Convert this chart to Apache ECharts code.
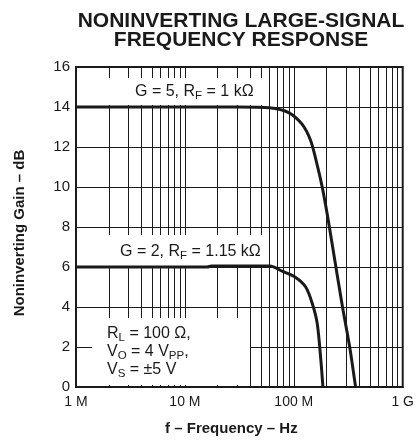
<!DOCTYPE html>
<html>
<head>
<meta charset="utf-8">
<script src="https://cdn.jsdelivr.net/npm/echarts@6/dist/echarts.min.js"></script>
<style>html,body{margin:0;padding:0;background:#fff;}#c{width:417px;height:441px;}</style>
</head>
<body>
<div id="c"></div>
<script>
// ---- data ----
var xTickValues = [1e6, 1e7, 1e8, 1e9];
var xTickLabels = ['1 M', '10 M', '100 M', '1 G'];
var yTickLabels = ['0', '2', '4', '6', '8', '10', '12', '14', '16'];

var freqG5 = [1e6, 3e7, 5.95e7, 9.06e7, 1.19e8, 1.43e8, 1.63e8, 1.82e8, 2.02e8, 2.24e8, 2.8e8, 3.26e8, 3.69e8];
var gainG5 = [14.0, 14.0, 13.96, 13.71, 13.14, 12.31, 11.16, 10.02, 8.69, 7.21, 4.0, 2.0, 0.0];

var freqG2 = [1e6, 1.6e7, 1.75e7, 6.0e7, 7.9e7, 1.04e8, 1.29e8, 1.48e8, 1.64e8, 1.77e8, 1.85e8];
var gainG2 = [6.0, 6.0, 6.05, 6.05, 5.78, 5.48, 4.99, 4.16, 3.18, 1.37, 0.0];

var FONT = "'Liberation Sans', Arial, Helvetica, sans-serif";
var INK = '#1a1a1a';

function zip(a, b) { return a.map(function (v, i) { return [v, b[i]]; }); }

// minor vertical grid positions (2..9 x each decade)
var minorLines = [];
for (var d = 0; d < xTickValues.length - 1; d++) {
  for (var m = 2; m <= 9; m++) minorLines.push({ xAxis: xTickValues[d] * m });
}

var chart = echarts.init(document.getElementById('c'), null, { renderer: 'canvas' });

var main = { fontFamily: FONT, fontSize: 16, color: INK };
var sub = { fontFamily: FONT, fontSize: 11.5, color: INK, verticalAlign: 'bottom', padding: [7, 0, 0, 0] };

function label(x, y, text) {
  return {
    type: 'text', x: x, y: y, z: 50,
    style: { text: text, fill: INK, font: '16px ' + FONT, verticalAlign: 'middle', rich: { a: main, s: sub } }
  };
}
function box(x, y, w, h) {
  return { type: 'rect', z: 40, shape: { x: x, y: y, width: w, height: h }, style: { fill: '#fff', stroke: null } };
}

var option = {
  animation: false,
  backgroundColor: '#fff',
  title: {
    text: 'NONINVERTING LARGE-SIGNAL\nFREQUENCY RESPONSE',
    left: 241, top: 12, padding: 0, textAlign: 'center',
    textStyle: { fontFamily: FONT, fontSize: 21, fontWeight: 'bold', color: INK, lineHeight: 19 }
  },
  grid: { left: 76, right: 13, top: 67, bottom: 50, show: true, borderColor: INK, borderWidth: 2, backgroundColor: 'transparent' },
  xAxis: {
    type: 'log', logBase: 10, min: 1e6, max: 1e9,
    name: 'f – Frequency – Hz', nameLocation: 'middle', nameGap: 34,
    nameTextStyle: { fontFamily: FONT, fontSize: 15, fontWeight: 'bold', color: INK, padding: [0, 16, 0, 0] },
    axisLine: { show: true, lineStyle: { color: INK, width: 2 } },
    axisTick: { show: false },
    splitLine: { show: true, lineStyle: { color: INK, width: 1 } },
    minorTick: { show: false }, minorSplitLine: { show: false },
    axisLabel: {
      margin: 8, fontFamily: FONT, fontSize: 14, color: INK,
      formatter: function (v) {
        var i = Math.round(Math.log10(v)) - 6;
        return xTickLabels[i] !== undefined ? xTickLabels[i] : '';
      }
    }
  },
  yAxis: {
    type: 'value', min: 0, max: 16, interval: 2,
    name: 'Noninverting Gain – dB', nameLocation: 'middle', nameGap: 49, nameRotate: 90,
    nameTextStyle: { fontFamily: FONT, fontSize: 15, fontWeight: 'bold', color: INK, padding: [0, 12, 0, 0] },
    axisLine: { show: true, lineStyle: { color: INK, width: 2 } },
    axisTick: { show: false },
    splitLine: { show: true, lineStyle: { color: INK, width: 1 } },
    axisLabel: {
      margin: 6, fontFamily: FONT, fontSize: 15, color: INK,
      formatter: function (v) { return yTickLabels[Math.round(v / 2)]; }
    }
  },
  graphic: {
    elements: [
      box(86, 78, 181, 27),
      box(88, 235, 178, 31),
      box(92, 318, 158, 67),
      label(135, 92, '{a|G = 5, R}{s|F}{a| = 1 kΩ}'),
      label(120, 252, '{a|G = 2, R}{s|F}{a| = 1.15 kΩ}'),
      label(107, 334, '{a|R}{s|L}{a| = 100 Ω,}'),
      label(107, 352, '{a|V}{s|O}{a| = 4 V}{s|PP}{a|,}'),
      label(107, 370, '{a|V}{s|S}{a| = ±5 V}')
    ]
  },
  series: [
    {
      type: 'line', data: [], z: 2, silent: true,
      markLine: {
        silent: true, z: 2, symbol: ['none', 'none'], label: { show: false },
        lineStyle: { color: INK, width: 1, type: 'solid' },
        data: minorLines
      }
    },
    {
      name: 'G5', type: 'line', z: 60, data: zip(freqG5, gainG5), smooth: 0.25,
      showSymbol: false, symbol: 'none', lineStyle: { color: INK, width: 3 }
    },
    {
      name: 'G2', type: 'line', z: 60, data: zip(freqG2, gainG2), smooth: 0.3,
      showSymbol: false, symbol: 'none', lineStyle: { color: INK, width: 3 }
    }
  ]
};
chart.setOption(option);
</script>
</body>
</html>
